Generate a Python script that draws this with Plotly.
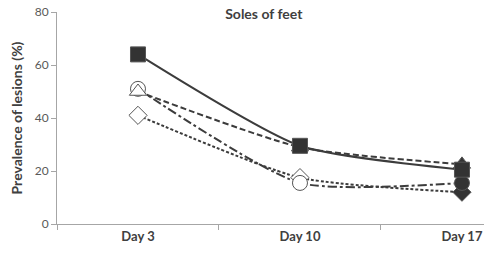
import plotly.graph_objects as go

days = ["Day 3", "Day 10", "Day 17"]
x_pos = [0, 1, 2]
square_vals = [64, 29.5, 20.5]
triangle_vals = [50, 29, 22.5]
circle_vals = [51, 15.5, 15.5]
diamond_vals = [41, 17.5, 12]
y_ticks = [0, 20, 40, 60, 80]

dark = "#333333"
line_col = "#3c3c3c"

series = [
    ("diamond", diamond_vals, "3px,2px", "diamond", ["white", "white", dark], 14),
    ("circle", circle_vals, "dashdot", "circle", ["white", "white", dark], 15),
    ("triangle", triangle_vals, "6px,3px", "triangle-up", ["white", "white", dark], 15),
    ("square", square_vals, "solid", "square", [dark, dark, dark], 15),
]

fig = go.Figure()
for name, vals, dash, sym, fills, size in series:
    fig.add_trace(go.Scatter(
        x=x_pos, y=vals, name=name, mode="lines+markers",
        line=dict(color=line_col, width=2, dash=dash, shape="spline", smoothing=0.6),
        marker=dict(symbol=sym, size=size, color=fills, line=dict(color="#555555", width=1)),
        cliponaxis=False, showlegend=False,
    ))

fig.update_layout(
    width=484, height=261,
    margin=dict(l=57, r=0, t=12, b=37),
    paper_bgcolor="white", plot_bgcolor="white",
    font=dict(family="Lato, Open Sans, sans-serif", color="#555555"),
    title=dict(text="<b>Soles of feet</b>", x=0.545, xanchor="center", y=0.945, yanchor="middle",
               font=dict(size=14, color="#404040")),
    xaxis=dict(
        range=[-0.5, 2.136], tickvals=x_pos, ticktext=["<b>%s</b>" % d for d in days],
        ticks="", showgrid=False, zeroline=False, automargin=False,
        showline=True, linecolor="#a6a6a6", linewidth=1,
        tickfont=dict(size=13, color="#404040"), ticklabeloverflow="allow",
        minor=dict(tick0=0.5, dtick=1, ticks="outside", ticklen=5, tickcolor="#a6a6a6", showgrid=False),
    ),
    yaxis=dict(
        range=[0, 80], tickvals=y_ticks, showgrid=False, zeroline=False, automargin=False,
        showline=True, linecolor="#a6a6a6", linewidth=1,
        ticks="outside", ticklen=5, tickcolor="#a6a6a6",
        tickfont=dict(size=12, color="#595959"),
        title=dict(text="<b>Prevalence of lesions (%)</b>", font=dict(size=14, color="#404040"), standoff=8),
    ),
)

fig.write_html("out.html", config={"displayModeBar": False},
               post_script="document.body.style.margin='0';document.body.style.overflow='hidden';")
